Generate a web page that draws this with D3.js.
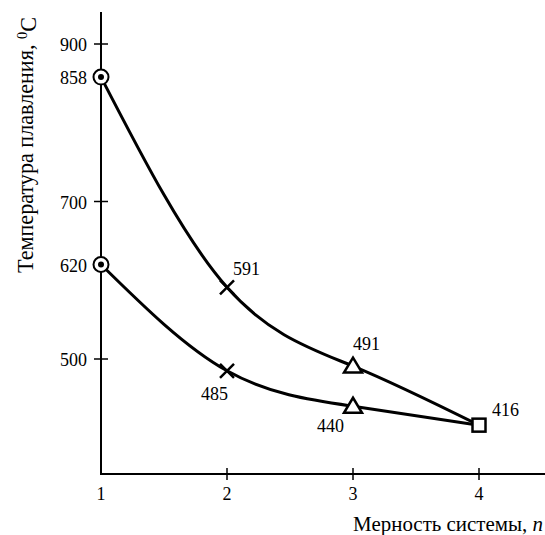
<!DOCTYPE html>
<html><head><meta charset="utf-8">
<script src="https://cdn.jsdelivr.net/npm/d3@7"></script>
<style>body{margin:0;background:#fff}svg{display:block}</style>
</head><body>
<svg id="c" width="545" height="535" font-family="'Liberation Serif', 'Times New Roman', serif"></svg>
<script>
const dims = [1, 2, 3, 4];
const upperTemp = [858, 591, 491, 416];
const lowerTemp = [620, 485, 440, 416];
const yTickMarks = [900, 700, 500];
const yTickLabels = [900, 858, 700, 620, 500];
const xTickLabels = [1, 2, 3, 4];
const xTickMarks = [2, 3, 4];
const markerTypes = ["circle", "cross", "triangle", "square"];
const yTitle = "Температура плавления, ";
const xTitle = "Мерность системы, ";

const svg = d3.select("#c");
const x = d3.scaleLinear().domain([1, 4]).range([101, 479]);
const y = d3.scaleLinear().domain([500, 900]).range([359, 44]);
const xAxisY = 474, yAxisTop = 12, xAxisRight = 545;

svg.append("line").attr("x1", x(1)).attr("x2", x(1)).attr("y1", yAxisTop).attr("y2", xAxisY + 1)
  .attr("stroke", "#000").attr("stroke-width", 2);
svg.append("line").attr("x1", x(1) - 1).attr("x2", xAxisRight).attr("y1", xAxisY).attr("y2", xAxisY)
  .attr("stroke", "#000").attr("stroke-width", 2);

svg.selectAll(".yt").data(yTickMarks).join("line")
  .attr("x1", x(1) - 7).attr("x2", x(1) + 7).attr("y1", d => y(d)).attr("y2", d => y(d))
  .attr("stroke", "#000").attr("stroke-width", 1.5);
svg.selectAll(".yl").data(yTickLabels).join("text")
  .attr("x", 87).attr("y", d => y(d) + 7).attr("text-anchor", "end")
  .attr("font-size", 18).text(d => d);

svg.selectAll(".xt").data(xTickMarks).join("line")
  .attr("x1", d => x(d)).attr("x2", d => x(d)).attr("y1", xAxisY - 6).attr("y2", xAxisY + 6)
  .attr("stroke", "#000").attr("stroke-width", 1.5);
svg.selectAll(".xl").data(xTickLabels).join("text")
  .attr("x", d => x(d)).attr("y", xAxisY + 26).attr("text-anchor", "middle")
  .attr("font-size", 18).text(d => d);

function fitWidth(sel, target, base) {
  const w = sel.node().getComputedTextLength();
  if (w > 0) sel.attr("font-size", base * target / w);
}

const xt = svg.append("text").attr("x", 543).attr("y", 531).attr("text-anchor", "end").attr("font-size", 18);
xt.append("tspan").text(xTitle);
xt.append("tspan").attr("font-style", "italic").text("n");
fitWidth(xt, 190, 18);

const yt = svg.append("text").attr("font-size", 18);
yt.append("tspan").text(yTitle);
yt.append("tspan").attr("font-size", "0.65em").attr("dy", "-0.4em").text("0");
yt.append("tspan").attr("dy", "0.4em").text("C");
fitWidth(yt, 256, 18);
yt.attr("transform", "translate(33,273) rotate(-90)");

const line = d3.line().x(d => x(d[0])).y(d => y(d[1])).curve(d3.curveNatural);
[upperTemp, lowerTemp].forEach(s => {
  svg.append("path").datum(dims.map((d, i) => [d, s[i]]))
    .attr("d", line).attr("fill", "none").attr("stroke", "#000").attr("stroke-width", 3);
});

function marker(type, cx, cy) {
  const g = svg.append("g").attr("transform", `translate(${cx},${cy})`);
  if (type === "circle") {
    g.append("circle").attr("r", 7.5).attr("fill", "#fff").attr("stroke", "#000").attr("stroke-width", 2);
    g.append("circle").attr("r", 3).attr("fill", "#000");
  } else if (type === "cross") {
    g.append("path").attr("d", "M-7,-7L7,7M-7,7L7,-7").attr("stroke", "#000").attr("stroke-width", 2.5);
  } else if (type === "triangle") {
    g.append("path").attr("d", "M0,-8.5L9,6.5L-9,6.5Z").attr("fill", "#fff").attr("stroke", "#000")
      .attr("stroke-width", 2.5);
  } else {
    g.append("rect").attr("x", -6.5).attr("y", -6.5).attr("width", 13).attr("height", 13)
      .attr("fill", "#fff").attr("stroke", "#000").attr("stroke-width", 2.5);
  }
}
[upperTemp, lowerTemp].forEach(s => {
  dims.forEach((d, i) => {
    if (s === lowerTemp && i === 3) return;
    marker(markerTypes[i], x(d), y(s[i]));
  });
});

const valueLabels = [
  {n: 2, v: upperTemp[1], dx: 6, dy: -12},
  {n: 2, v: lowerTemp[1], dx: -26, dy: 29},
  {n: 3, v: upperTemp[2], dx: 0, dy: -16},
  {n: 3, v: lowerTemp[2], dx: -36, dy: 26},
  {n: 4, v: upperTemp[3], dx: 13, dy: -9}
];
svg.selectAll(".vl").data(valueLabels).join("text")
  .attr("x", d => x(d.n) + d.dx).attr("y", d => y(d.v) + d.dy)
  .attr("font-size", 18).text(d => d.v);
</script>
</body></html>
